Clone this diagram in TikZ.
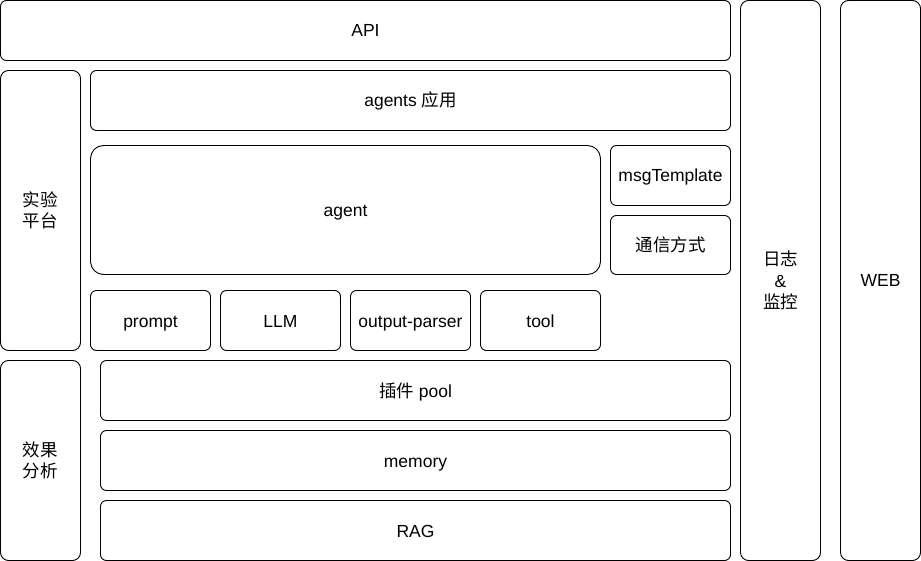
\documentclass[tikz,border=0pt]{standalone}
\usepackage{fontspec}
\setmainfont{Liberation Sans}
\newfontfamily\cjk{Noto Sans CJK SC}
\usetikzlibrary{positioning}

\begin{document}
\begin{tikzpicture}[x=1pt,y=-1pt,
        base/.style={draw,line width=0.9pt,rounded corners=6pt,inner sep=0pt,
            align=center,font=\fontsize{17.5}{21.5}\selectfont},
        box/.style={base,text height=16pt,text depth=3pt},
        column/.style={base,rounded corners=8pt,minimum width=80pt}]
                \useasboundingbox(0,0)rectangle(921,561);
                % top row and right columns
                \node[box,minimum width=730pt,minimum height=60pt](api)at(365.5,30.5){API};
                \node[column,minimum height=560pt](log)at(780.5,280.5){{\cjk 日志}\\\&\\{\cjk 监控}};
                \node[column,minimum height=560pt](web)at(880.5,280.5){WEB};
                % experiment platform
                \node[column,minimum height=280pt](lab)at(40.5,210.5){{\cjk 实验}\\{\cjk 平台}};
                \node[box,minimum width=640pt,minimum height=60pt](apps)at(410.5,100.5){agents {\cjk 应用}};
                \node[box,rounded corners=13pt,minimum width=510pt,minimum height=129pt](agent)at(345.5,210){agent};
                \node[box,minimum width=120pt,minimum height=60pt](msg)at(670.5,175.5){msgTemplate};
                \node[box,minimum width=120pt,minimum height=59pt](comm)at(670.5,245){{\cjk 通信方式}};
                \node[box,minimum width=120pt,minimum height=60pt](prompt)at(150.5,320.5){prompt};
                \node[box,minimum width=120pt,minimum height=60pt](llm)at(280.5,320.5){LLM};
                \node[box,minimum width=120pt,minimum height=60pt](parser)at(410.5,320.5){output-parser};
                \node[box,minimum width=120pt,minimum height=60pt](tool)at(540.5,320.5){tool};
                % analysis
                \node[column,minimum height=200pt](eval)at(40.5,460.5){{\cjk 效果}\\{\cjk 分析}};
                \node[box,minimum width=630pt,minimum height=60pt](plugin)at(415.5,390.5){{\cjk 插件} pool};
                \node[box,minimum width=630pt,minimum height=60pt](memory)at(415.5,460.5){memory};
                \node[box,minimum width=630pt,minimum height=60pt](rag)at(415.5,530.5){RAG};
            \end{tikzpicture}
\end{document}
